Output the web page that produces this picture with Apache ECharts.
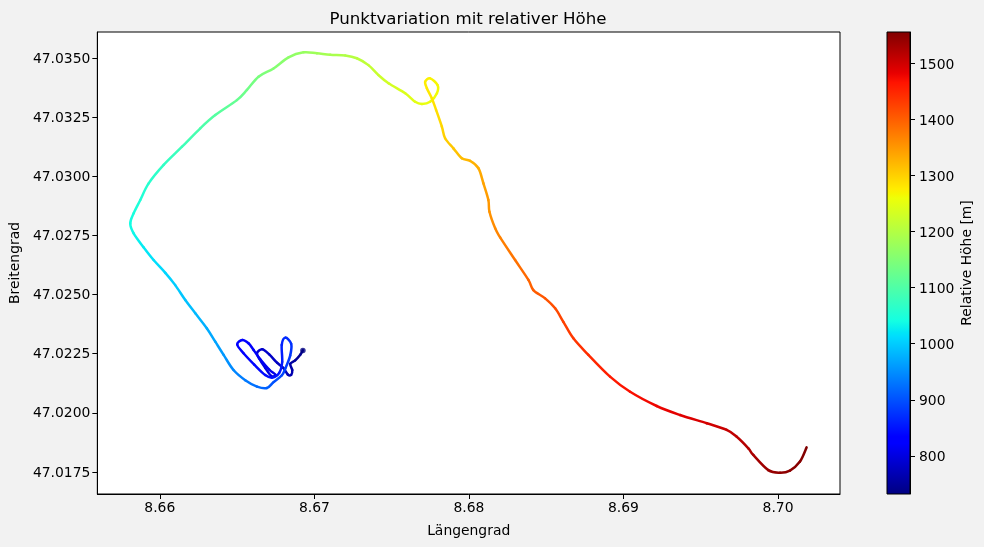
<!DOCTYPE html>
<html><head><meta charset="utf-8">
<style>html,body{margin:0;padding:0;background:#f2f2f2}#c{width:984px;height:547px}</style>
<script src="https://cdn.jsdelivr.net/npm/echarts@6/dist/echarts.min.js"></script>
</head><body><div id="c"></div>
<script>
const lon=[8.66926,8.66909,8.66876,8.66844,8.66857,8.66850,8.66828,8.66799,8.66760,8.66708,8.66663,8.66629,8.66643,8.66682,8.66721,8.66750,8.66708,8.66650,8.66607,8.66574,8.66534,8.66501,8.66542,8.66611,8.66682,8.66728,8.66773,8.66792,8.66789,8.66812,8.66850,8.66844,8.66812,8.66790,8.66736,8.66693,8.66629,8.66553,8.66477,8.66413,8.66359,8.66305,8.66230,8.66165,8.66100,8.66036,8.65960,8.65895,8.65831,8.65809,8.65831,8.65874,8.65928,8.66025,8.66144,8.66262,8.66359,8.66499,8.66564,8.66639,8.66736,8.66833,8.66930,8.67017,8.67103,8.67200,8.67275,8.67350,8.67415,8.67480,8.67588,8.67652,8.67696,8.67749,8.67793,8.67797,8.67749,8.67717,8.67728,8.67760,8.67788,8.67825,8.67846,8.67900,8.67954,8.68008,8.68062,8.68094,8.68126,8.68133,8.68170,8.68202,8.68299,8.68385,8.68417,8.68493,8.68558,8.68611,8.68676,8.68773,8.68913,8.69043,8.69215,8.69366,8.69539,8.69668,8.69733,8.69808,8.69840,8.69937,8.70013,8.70077,8.70142,8.70185];
const lat=[47.02264,47.02246,47.02222,47.02207,47.02181,47.02161,47.02162,47.02190,47.02211,47.02247,47.02269,47.02253,47.02230,47.02190,47.02156,47.02160,47.02183,47.02226,47.02266,47.02294,47.02308,47.02289,47.02252,47.02204,47.02160,47.02149,47.02169,47.02215,47.02287,47.02318,47.02292,47.02243,47.02187,47.02159,47.02130,47.02105,47.02111,47.02138,47.02181,47.02245,47.02301,47.02357,47.02421,47.02477,47.02540,47.02592,47.02646,47.02700,47.02759,47.02801,47.02844,47.02900,47.02970,47.03048,47.03125,47.03203,47.03259,47.03322,47.03365,47.03421,47.03456,47.03503,47.03524,47.03520,47.03514,47.03511,47.03499,47.03470,47.03428,47.03393,47.03351,47.03315,47.03306,47.03315,47.03351,47.03386,47.03414,47.03400,47.03372,47.03330,47.03280,47.03210,47.03161,47.03118,47.03076,47.03065,47.03034,47.02970,47.02900,47.02850,47.02780,47.02742,47.02646,47.02562,47.02519,47.02484,47.02442,47.02385,47.02315,47.02245,47.02153,47.02089,47.02029,47.01991,47.01956,47.01928,47.01899,47.01850,47.01822,47.01758,47.01747,47.01756,47.01794,47.01854];
const hoehe=[733,745,752,758,763,767,771,775,779,783,787,791,795,799,803,807,811,815,819,823,827,831,835,839,843,847,851,856,862,868,874,880,886,892,900,912,924,934,945,958,968,976,985,993,1000,1008,1016,1024,1034,1040,1046,1052,1060,1070,1082,1095,1106,1122,1132,1142,1152,1162,1172,1180,1188,1197,1205,1214,1222,1230,1240,1247,1252,1257,1262,1266,1270,1274,1278,1282,1287,1295,1302,1310,1318,1325,1332,1340,1348,1353,1362,1368,1382,1394,1400,1408,1416,1425,1434,1444,1458,1468,1478,1487,1496,1506,1513,1522,1527,1538,1544,1548,1552,1556];
const xTicks=[8.66,8.67,8.68,8.69,8.70];
const yTicks=[47.0175,47.02,47.0225,47.025,47.0275,47.03,47.0325,47.035];
const cbTicks=[800,900,1000,1100,1200,1300,1400,1500];
const hMin=732,hMax=1556;
const jetStops=[[0,'#000080'],[.11,'#0000ff'],[.125,'#0000ff'],[.34,'#00dbff'],[.35,'#00e6f7'],[.375,'#14ffe2'],[.64,'#eeff08'],[.65,'#f7f600'],[.66,'#ffec00'],[.89,'#ff1300'],[.91,'#e80000'],[1,'#800000']];
function jet(h){
  const f=Math.min(1,Math.max(0,(h-hMin)/(hMax-hMin)));
  for(let i=1;i<jetStops.length;i++){
    if(f<=jetStops[i][0]){
      const a=jetStops[i-1],b=jetStops[i];
      return echarts.color.lerp((f-a[0])/(b[0]-a[0]),[a[1],b[1]]);
    }
  }
  return jetStops[jetStops.length-1][1];
}
const font='"DejaVu Sans"';
const chart=echarts.init(document.getElementById('c'),null,{renderer:'canvas'});
const pathData=lon.map((v,i)=>[v,lat[i],hoehe[i]]);
function axisBase(ticks,fmt,extra,labelExtra){
  return Object.assign({
    type:'value',scale:true,
    splitLine:{show:false},
    axisLine:{show:true,onZero:false,lineStyle:{color:'#000',width:1}},
    axisTick:{show:true,length:5,customValues:ticks,lineStyle:{color:'#000',width:1}},
    axisLabel:Object.assign({show:true,customValues:ticks,formatter:fmt,color:'#000',fontFamily:font,fontSize:13.9,margin:7,hideOverlap:false,showMinLabel:true,showMaxLabel:true},labelExtra||{}),
    nameLocation:'middle',
    nameTextStyle:{color:'#000',fontFamily:font,fontSize:13.9}
  },extra);
}
chart.setOption({
  animation:false,
  backgroundColor:'#f2f2f2',
  title:{text:'Punktvariation mit relativer Höhe',left:463,top:6,textAlign:'center',textStyle:{color:'#000',fontFamily:font,fontSize:16.67,fontWeight:'normal'}},
  grid:[
    {left:97,top:32,width:743,height:462,show:true,backgroundColor:'#fff',borderColor:'#000',borderWidth:1},
    {left:887,top:32,width:23,height:462,show:false}
  ],
  xAxis:[
    axisBase(xTicks,v=>v.toFixed(2),{gridIndex:0,min:8.65596,max:8.70401,name:'Längengrad',nameGap:30}),
    {type:'value',gridIndex:1,min:0,max:1,show:false}
  ],
  yAxis:[
    axisBase(yTicks,v=>v.toFixed(4),{gridIndex:0,min:47.01657,max:47.0361,name:'Breitengrad',nameGap:67},{verticalAlign:'top',padding:[-6,0,0,0]}),
    axisBase(cbTicks,v=>String(v),{gridIndex:1,position:'right',min:hMin,max:hMax,name:'Relative Höhe [m]',nameGap:50,nameRotate:90},{margin:9,verticalAlign:'top',padding:[-5,0,0,0]})
  ],
  series:[
    {
      type:'custom',xAxisIndex:0,yAxisIndex:0,coordinateSystem:'cartesian2d',clip:true,
      data:pathData,encode:{x:0,y:1},
      renderItem(params,api){
        const i=params.dataIndex,n=pathData.length;
        if(i>=n-1)return {type:'group',children:[]};
        const pt=k=>api.coord(pathData[Math.max(0,Math.min(n-1,k))]);
        const p0=pt(i-1),p1=pt(i),p2=pt(i+1),p3=pt(i+2);
        const k=1/6;
        return {
          type:'bezierCurve',
          shape:{x1:p1[0],y1:p1[1],x2:p2[0],y2:p2[1],
            cpx1:p1[0]+(p2[0]-p0[0])*k,cpy1:p1[1]+(p2[1]-p0[1])*k,
            cpx2:p2[0]-(p3[0]-p1[0])*k,cpy2:p2[1]-(p3[1]-p1[1])*k},
          style:{fill:null,lineWidth:2.5,lineCap:'round',
            stroke:new echarts.graphic.LinearGradient(p1[0],p1[1],p2[0],p2[1],
              [{offset:0,color:jet(hoehe[i])},{offset:1,color:jet(hoehe[i+1])}],true)}
        };
      }
    },
    {
      type:'scatter',xAxisIndex:0,yAxisIndex:0,symbolSize:5.5,
      data:[pathData[0]],itemStyle:{color:jet(hoehe[0])}
    },
    {
      type:'custom',xAxisIndex:1,yAxisIndex:1,coordinateSystem:'cartesian2d',clip:false,z:1,
      data:[[0,hMin,1,hMax]],encode:{x:[0,2],y:[1,3]},
      renderItem(params,api){
        const a=api.coord([api.value(0),api.value(1)]),b=api.coord([api.value(2),api.value(3)]);
        return {
          type:'rect',
          shape:{x:a[0],y:b[1],width:b[0]-a[0],height:a[1]-b[1]},
          style:{stroke:'#000',lineWidth:1,
            fill:new echarts.graphic.LinearGradient(0,1,0,0,jetStops.map(s=>({offset:s[0],color:s[1]})))}
        };
      }
    }
  ]
});
</script></body></html>
